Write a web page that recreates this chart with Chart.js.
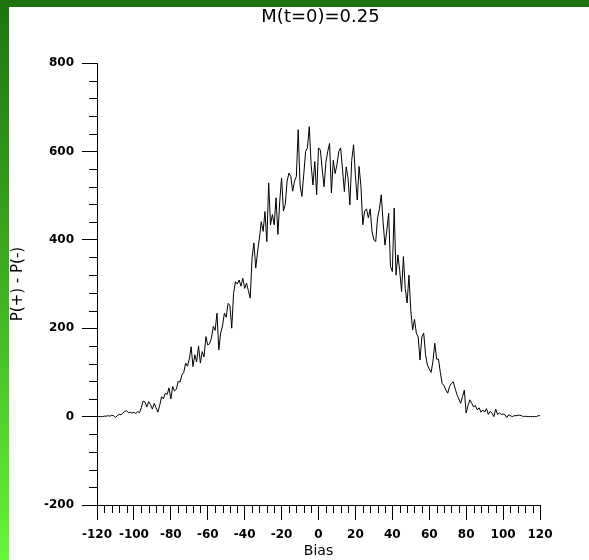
<!DOCTYPE html>
<html>
<head>
<meta charset="utf-8">
<script src="https://cdn.jsdelivr.net/npm/chart.js@4/dist/chart.umd.min.js"></script>
<style>
  html, body { margin: 0; padding: 0; }
  body { width: 589px; height: 560px; position: relative; overflow: hidden;
         background: linear-gradient(to bottom, #1e7410 0%, #3fae22 50%, #66f63a 100%); }
  #topbar { position: absolute; left: 0; top: 0; width: 589px; height: 7px; background: #1e7410; }
  #wrap { position: absolute; left: 9px; top: 7px; width: 580px; height: 553px; background: #fff; }
</style>
</head>
<body>
<div id="topbar"></div>
<div id="wrap"><canvas id="canvas1" width="580" height="553"></canvas></div>
<script>
var titleText = 'M(t=0)=0.25';
var xTitle = 'Bias';
var yTitle = 'P(+) - P(-)';

var xTicks = [-120, -100, -80, -60, -40, -20, 0, 20, 40, 60, 80, 100, 120];
var yTicks = [-200, 0, 200, 400, 600, 800];
var xMinorStep = 4;
var yMinorStep = 40;

// bias values
var bias = [
  -120, -119, -118, -117, -116, -115, -114, -113, -112, -111,
  -110, -109, -108, -107, -106, -105, -104, -103, -102, -101,
  -100, -99, -98, -97, -96, -95, -94, -93, -92, -91,
  -90, -89, -88, -87, -86, -85, -84, -83, -82, -81,
  -80, -79, -78, -77, -76, -75, -74, -73, -72, -71,
  -70, -69, -68, -67, -66, -65, -64, -63, -62, -61,
  -60, -59, -58, -57, -56, -55, -54, -53, -52, -51,
  -50, -49, -48, -47, -46, -45, -44, -43, -42, -41,
  -40, -39, -38, -37, -36, -35, -34, -33, -32, -31,
  -30, -29, -28, -27, -26, -25, -24, -23, -22, -21,
  -20, -19, -18, -17, -16, -15, -14, -13, -12, -11,
  -10, -9, -8, -7, -6, -5, -4, -3, -2, -1,
  0, 1, 2, 3, 4, 5, 6, 7, 8, 9,
  10, 11, 12, 13, 14, 15, 16, 17, 18, 19,
  20, 21, 22, 23, 24, 25, 26, 27, 28, 29,
  30, 31, 32, 33, 34, 35, 36, 37, 38, 39,
  40, 41, 42, 43, 44, 45, 46, 47, 48, 49,
  50, 51, 52, 53, 54, 55, 56, 57, 58, 59,
  60, 61, 62, 63, 64, 65, 66, 67, 68, 69,
  70, 71, 72, 73, 74, 75, 76, 77, 78, 79,
  80, 81, 82, 83, 84, 85, 86, 87, 88, 89,
  90, 91, 92, 93, 94, 95, 96, 97, 98, 99,
  100, 101, 102, 103, 104, 105, 106, 107, 108, 109,
  110, 111, 112, 113, 114, 115, 116, 117, 118, 119,
  120
];

// P(+) - P(-)
var diff = [
  0, 0, 0, 0, 1, 1, 2, 1, 3, 2,
  -2, 2, 5, 4, 8, 12, 13, 9, 10, 8,
  10, 7, 11, 9, 20, 35, 33, 22, 34, 27,
  17, 30, 20, 10, 26, 45, 40, 53, 50, 65,
  40, 68, 58, 62, 80, 78, 94, 100, 121, 114,
  130, 158, 113, 140, 124, 160, 121, 147, 135, 181,
  162, 165, 178, 204, 195, 234, 151, 189, 205, 234,
  225, 256, 252, 200, 279, 305, 300, 309, 295, 313,
  290, 302, 285, 268, 359, 393, 336, 373, 404, 441,
  419, 464, 396, 529, 434, 457, 434, 495, 412, 487,
  540, 465, 480, 533, 551, 543, 510, 533, 543, 649,
  524, 498, 547, 600, 608, 656, 570, 524, 577, 502,
  608, 603, 560, 520, 575, 600, 618, 506, 580, 550,
  570, 600, 608, 560, 509, 565, 540, 479, 580, 615,
  545, 490, 566, 520, 434, 465, 470, 450, 470, 419,
  400, 396, 450, 470, 502, 440, 388, 420, 460, 340,
  328, 472, 320, 366, 330, 283, 362, 290, 257, 320,
  240, 196, 220, 189, 180, 128, 180, 189, 140, 117,
  108, 100, 125, 166, 130, 130, 100, 75, 70, 60,
  53, 68, 75, 79, 64, 50, 40, 30, 45, 60,
  8, 25, 38, 30, 22, 25, 15, 20, 10, 15,
  10, 18, 5, 12, 8, 0, 17, 5, 8, 5,
  6, 4, -2, 4, 2, 0, 2, 2, 3, 3,
  2, 0, 1, 0, 0, 0, 0, 0, 0, 2,
  2
];

var points = bias.map(function(b, i) { return {x: b, y: diff[i]}; });

var tickFont = {family: '"DejaVu Sans"', size: 12, weight: 'bold'};
var xTitleFont = {family: '"DejaVu Sans"', size: 14, weight: 'normal'};
var yTitleFont = {family: '"DejaVu Sans"', size: 15, weight: 'normal'};

// minor ticks + the top title, drawn off the scales
var extras = {
  id: 'extras',
  afterDraw: function(chart) {
    var ctx = chart.ctx;
    var x = chart.scales.x, y = chart.scales.y, area = chart.chartArea;
    ctx.save();
    ctx.strokeStyle = '#000';
    ctx.lineWidth = 1;
    ctx.beginPath();
    for (var v = yTicks[0]; v <= yTicks[yTicks.length - 1]; v += yMinorStep) {
      if (yTicks.indexOf(v) >= 0) continue;
      var py = Math.round(y.getPixelForValue(v)) + 0.5;
      ctx.moveTo(area.left - 8, py);
      ctx.lineTo(area.left, py);
    }
    for (var u = xTicks[0]; u <= xTicks[xTicks.length - 1]; u += xMinorStep) {
      if (xTicks.indexOf(u) >= 0) continue;
      var px = Math.round(x.getPixelForValue(u)) + 0.5;
      ctx.moveTo(px, area.bottom);
      ctx.lineTo(px, area.bottom + 8);
    }
    ctx.stroke();
    ctx.fillStyle = '#000';
    ctx.font = '18px "DejaVu Sans"';
    ctx.textAlign = 'center';
    ctx.textBaseline = 'middle';
    ctx.fillText(titleText, (area.left + area.right) / 2 + 2, 10);
    ctx.restore();
  }
};

var ctx = document.getElementById('canvas1').getContext('2d');
new Chart(ctx, {
  type: 'line',
  data: {
    datasets: [{
      data: points,
      borderColor: '#000',
      borderWidth: 1,
      pointRadius: 0,
      tension: 0,
      fill: false
    }]
  },
  options: {
    responsive: false,
    animation: false,
    events: [],
    layout: {padding: {top: 56, right: 49, left: 0, bottom: 0}},
    plugins: {legend: {display: false}, tooltip: {enabled: false}},
    scales: {
      x: {
        type: 'linear',
        min: -120,
        max: 120,
        afterBuildTicks: function(scale) {
          scale.ticks = xTicks.map(function(v) { return {value: v}; });
        },
        afterFit: function(scale) { scale.height = 55; },
        grid: {drawOnChartArea: false, drawTicks: true, tickLength: 15, color: '#000'},
        border: {color: '#000', width: 1},
        ticks: {autoSkip: false, maxRotation: 0, padding: 8, color: '#000', font: tickFont},
        title: {display: true, text: xTitle, color: '#000', font: xTitleFont, padding: {top: 0, bottom: 0}}
      },
      y: {
        type: 'linear',
        min: -200,
        max: 800,
        afterBuildTicks: function(scale) {
          scale.ticks = yTicks.map(function(v) { return {value: v}; });
        },
        afterFit: function(scale) { scale.width = 88; },
        grid: {drawOnChartArea: false, drawTicks: true, tickLength: 15, color: '#000'},
        border: {color: '#000', width: 1},
        ticks: {padding: 8, color: '#000', font: tickFont},
        title: {display: true, text: yTitle, color: '#000', font: yTitleFont, padding: {top: 0, bottom: 0}}
      }
    }
  },
  plugins: [extras]
});
</script>
</body>
</html>
